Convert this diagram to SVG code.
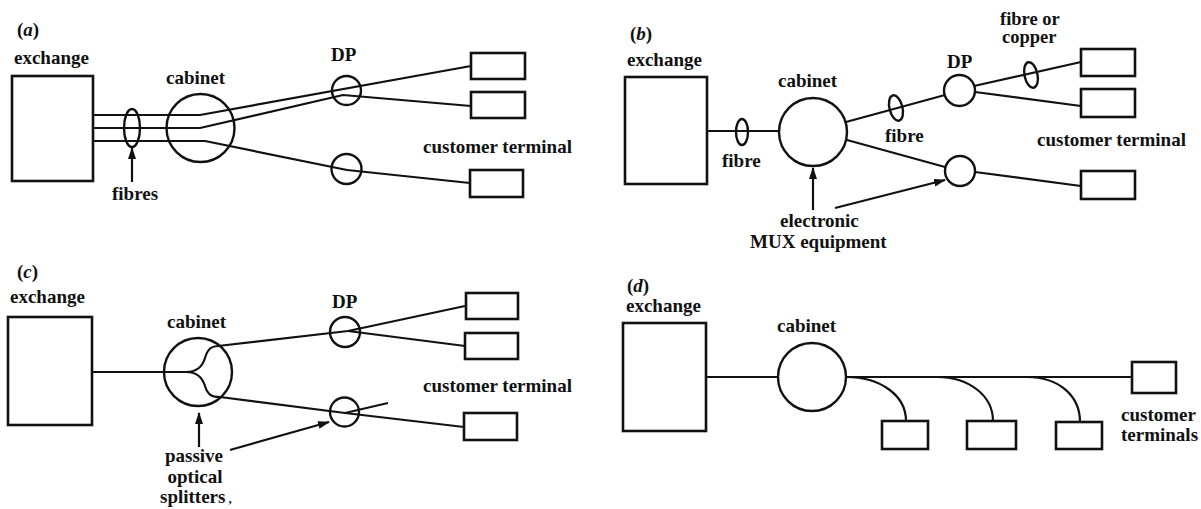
<svg xmlns="http://www.w3.org/2000/svg" width="1201" height="509" viewBox="0 0 1201 509">
  <defs>
    <style>
      .lbl { font-family: "Liberation Serif", "DejaVu Serif", serif; font-size: 19px; font-weight: bold; fill: #111; }
      .sm { font-size: 18.5px; }
      .it { font-style: italic; }
      .box { fill: none; stroke: #111; stroke-width: 2.6; }
      .node { fill: none; stroke: #111; stroke-width: 2.4; }
      .wire { fill: none; stroke: #111; stroke-width: 2.2; stroke-linejoin: round; }
      .ptr { fill: none; stroke: #111; stroke-width: 2.2; marker-end: url(#head); }
    </style>
    <marker id="head" viewBox="0 0 12 8" refX="11" refY="4" markerWidth="12" markerHeight="8" markerUnits="userSpaceOnUse" orient="auto">
      <path d="M0,0 L12,4 L0,8 Z" fill="#111"/>
    </marker>
  </defs>
  <rect width="1201" height="509" fill="#fff"/>

  <!-- ===== (a) three fibres to cabinet ===== -->
  <g id="a-title"><text class="lbl" x="17" y="36">(<tspan class="it">a</tspan>)</text></g>
  <g id="a-exchange">
    <text class="lbl" x="14" y="64">exchange</text>
    <rect class="box" x="12" y="76" width="81" height="105"/>
  </g>
  <g id="a-cabinet">
    <text class="lbl" x="166" y="84">cabinet</text>
    <circle class="node" cx="200.5" cy="128" r="34"/>
  </g>
  <g id="a-dp1">
    <text class="lbl" x="331" y="61">DP</text>
    <circle class="node" cx="346.5" cy="90.5" r="14.5"/>
  </g>
  <g id="a-dp2"><circle class="node" cx="346.5" cy="169" r="15"/></g>
  <g id="a-term1"><rect class="box" x="471" y="53" width="54" height="26"/></g>
  <g id="a-term2"><rect class="box" x="471" y="92" width="54" height="26"/></g>
  <g id="a-term3">
    <text class="lbl" x="423" y="153">customer terminal</text>
    <rect class="box" x="470" y="170" width="53" height="27"/>
  </g>
  <g id="a-fibres">
    <ellipse class="node" cx="132" cy="128" rx="8" ry="19"/>
    <text class="lbl" x="112" y="200">fibres</text>
  </g>

  <!-- ===== (b) electronic multiplexing ===== -->
  <g id="b-title"><text class="lbl" x="630" y="40">(<tspan class="it">b</tspan>)</text></g>
  <g id="b-exchange">
    <text class="lbl" x="627" y="66">exchange</text>
    <rect class="box" x="625" y="77" width="82" height="107"/>
  </g>
  <g id="b-cabinet">
    <text class="lbl" x="778" y="87">cabinet</text>
    <circle class="node" cx="813" cy="132" r="34"/>
  </g>
  <g id="b-dp1">
    <text class="lbl" x="947" y="68">DP</text>
    <circle class="node" cx="959.5" cy="90.5" r="15.5"/>
  </g>
  <g id="b-dp2"><circle class="node" cx="960" cy="171" r="15"/></g>
  <g id="b-term1"><rect class="box" x="1081" y="49" width="54" height="27"/></g>
  <g id="b-term2"><rect class="box" x="1081" y="89" width="54" height="28"/></g>
  <g id="b-term3">
    <text class="lbl" x="1037" y="146">customer terminal</text>
    <rect class="box" x="1081" y="171" width="54" height="28"/>
  </g>
  <g id="b-fibre1">
    <ellipse class="node" cx="742" cy="132" rx="6" ry="13"/>
    <text class="lbl" x="722" y="167">fibre</text>
  </g>
  <g id="b-fibre2">
    <ellipse class="node" cx="896" cy="108" rx="6.5" ry="13" transform="rotate(-14 896 108)"/>
    <text class="lbl" x="885" y="142">fibre</text>
  </g>
  <g id="b-drop">
    <ellipse class="node" cx="1031" cy="75" rx="6.5" ry="13" transform="rotate(-12 1031 75)"/>
    <text class="lbl sm" x="1000" y="25">fibre or</text>
    <text class="lbl sm" x="1002" y="43">copper</text>
  </g>
  <g id="b-mux">
    <text class="lbl" x="780" y="227">electronic</text>
    <text class="lbl" x="750" y="248">MUX equipment</text>
  </g>

  <!-- ===== (c) passive optical splitting ===== -->
  <g id="c-title"><text class="lbl" x="17" y="278">(<tspan class="it">c</tspan>)</text></g>
  <g id="c-exchange">
    <text class="lbl" x="10" y="303">exchange</text>
    <rect class="box" x="8" y="317" width="84" height="108"/>
  </g>
  <g id="c-cabinet">
    <text class="lbl" x="167" y="328">cabinet</text>
    <circle class="node" cx="198" cy="372" r="34"/>
  </g>
  <g id="c-dp1">
    <text class="lbl" x="332" y="308">DP</text>
    <circle class="node" cx="345" cy="332" r="15"/>
  </g>
  <g id="c-dp2"><circle class="node" cx="344.5" cy="412" r="14.5"/></g>
  <g id="c-term1"><rect class="box" x="466" y="293" width="52" height="26"/></g>
  <g id="c-term2"><rect class="box" x="465" y="333" width="53" height="26"/></g>
  <g id="c-term3">
    <text class="lbl" x="423" y="392">customer terminal</text>
    <rect class="box" x="464" y="413" width="53" height="27"/>
  </g>
  <g id="c-splitters">
    <text class="lbl" x="194" y="462" text-anchor="middle">passive</text>
    <text class="lbl" x="195" y="483" text-anchor="middle">optical</text>
    <text class="lbl" x="160" y="503">splitters<tspan dx="3" font-size="13">,</tspan></text>
  </g>

  <!-- ===== (d) copper bus from cabinet ===== -->
  <g id="d-title"><text class="lbl" x="627" y="292">(<tspan class="it">d</tspan>)</text></g>
  <g id="d-exchange">
    <text class="lbl" x="626" y="312">exchange</text>
    <rect class="box" x="623" y="323" width="83" height="108"/>
  </g>
  <g id="d-cabinet">
    <text class="lbl" x="777" y="332">cabinet</text>
    <circle class="node" cx="812" cy="377" r="34"/>
  </g>
  <g id="d-term1"><rect class="box" x="882" y="421" width="46" height="28"/></g>
  <g id="d-term2"><rect class="box" x="967" y="421" width="49" height="28"/></g>
  <g id="d-term3"><rect class="box" x="1056" y="422" width="46" height="27"/></g>
  <g id="d-term4">
    <rect class="box" x="1132" y="362" width="44" height="31"/>
    <text class="lbl" x="1121" y="421">customer</text>
    <text class="lbl" x="1121" y="441">terminals</text>
  </g>

  <!-- ===== connectors ===== -->
  <g id="connectors">
    <!-- (a) -->
    <polyline class="wire" points="93,115 200,115 471,66"/>
    <polyline class="wire" points="93,128 200,128 343,95 471,106"/>
    <polyline class="wire" points="93,141 205,141 347,170 470,183"/>
    <line class="ptr" x1="132" y1="182" x2="132" y2="148"/>

    <!-- (b) -->
    <line class="wire" x1="707" y1="131" x2="779" y2="131"/>
    <line class="wire" x1="846" y1="122" x2="945" y2="95"/>
    <line class="wire" x1="847" y1="140" x2="945" y2="167"/>
    <line class="wire" x1="974" y1="86" x2="1081" y2="62"/>
    <line class="wire" x1="975" y1="92" x2="1081" y2="106"/>
    <line class="wire" x1="975" y1="172" x2="1081" y2="186"/>
    <line class="ptr" x1="813" y1="210" x2="813" y2="168"/>
    <line class="ptr" x1="835" y1="208" x2="945" y2="180"/>

    <!-- (c) -->
    <line class="wire" x1="92" y1="372" x2="188" y2="372"/>
    <path class="wire" d="M186,372 C196,372 202,368 205,358 C208,348 212,346 218,346 L348,331 L465,306"/>
    <path class="wire" d="M186,372 C196,372 202,376 205,386 C208,396 213,397 220,397 L345,413 L464,427"/>
    <line class="wire" x1="348" y1="331" x2="465" y2="346"/>
    <line class="wire" x1="345" y1="413" x2="388" y2="403"/>
    <line class="ptr" x1="199" y1="447" x2="199" y2="413"/>
    <line class="ptr" x1="230" y1="450" x2="329" y2="422"/>

    <!-- (d) -->
    <line class="wire" x1="706" y1="377" x2="778" y2="377"/>
    <line class="wire" x1="846" y1="377" x2="1132" y2="377"/>
    <path class="wire" d="M846,377 C880,377 906,395 906,421"/>
    <path class="wire" d="M937,377 C968,377 993,395 993,421"/>
    <path class="wire" d="M1027,377 C1058,377 1080,395 1080,422"/>
  </g>
</svg>
